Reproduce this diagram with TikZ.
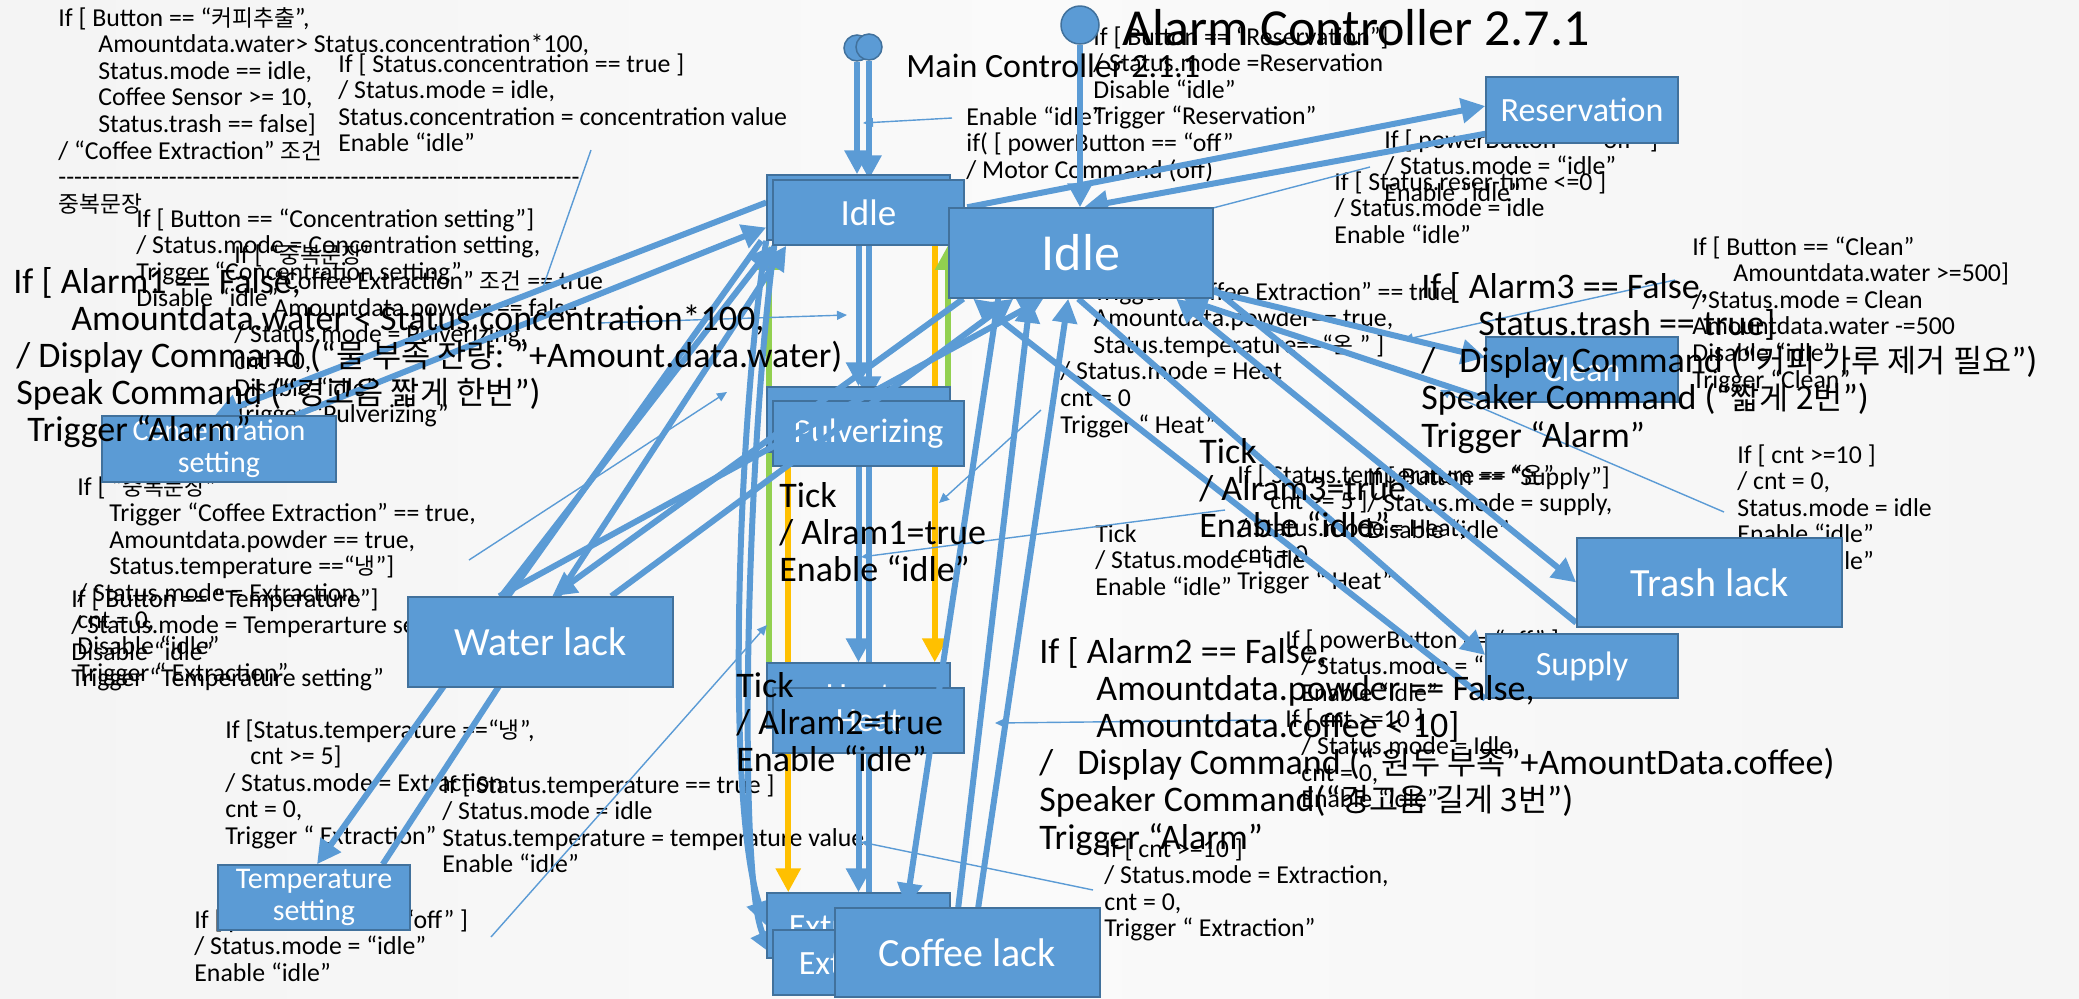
\documentclass[tikz,border=0pt]{standalone}
\usepackage{fontspec}
\setmainfont{Carlito}
\newfontfamily\krfont[Scale=0.88]{Noto Sans CJK KR}
\usetikzlibrary{arrows.meta,calc}

\definecolor{boxblue}{HTML}{5B9BD5}
\definecolor{boxedge}{HTML}{41719C}
\definecolor{lineblue}{HTML}{5B9BD5}
\definecolor{tickorange}{HTML}{FFC000}
\definecolor{tickgreen}{HTML}{92D050}

\newcommand{\ko}[1]{{\krfont #1}}
\newcommand{\lns}[1]{\begin{tabular}[t]{@{}l@{}}#1\end{tabular}}

\pgfdeclarehorizontalshading{slidebg}{100bp}{color(0bp)=(black!15); color(8bp)=(black!6); color(50bp)=(black!2); color(88bp)=(black!5); color(100bp)=(black!9)}

\pgfdeclarelayer{bg}
\pgfdeclarelayer{words}
\pgfdeclarelayer{wires}
\pgfdeclarelayer{boxes}
\pgfdeclarelayer{leads}
\pgfdeclarelayer{alarmwires}
\pgfdeclarelayer{top}
\pgfsetlayers{bg,words,wires,boxes,leads,alarmwires,main,top}

\tikzset{
  cond/.style={anchor=base west, inner sep=0pt, font=\fontsize{12.9}{13.3}\selectfont},
  bigcond/.style={anchor=base west, inner sep=0pt, font=\fontsize{18}{18.5}\selectfont},
  state/.style={draw=boxedge, fill=boxblue, line width=0.75pt, text=white, inner sep=0pt,
    align=center, font=\fontsize{17}{18}\selectfont},
  backbox/.style={state, minimum width=91.5pt, minimum height=32.5pt},
  frontbox/.style={state, minimum width=95.5pt, minimum height=32.5pt},
  sidebox/.style={state, minimum width=96pt, minimum height=33pt},
  lackbox/.style={state, minimum width=132.5pt, minimum height=44.5pt, font=\fontsize{20}{22}\selectfont},
  init/.style={circle, draw=boxedge, fill=boxblue, line width=0.75pt, inner sep=0pt},
  flow/.style={draw=lineblue, line width=3pt, -{Triangle[length=12pt,width=12pt]}},
  leader/.style={draw=lineblue, line width=0.7pt, -{Triangle[length=5pt,width=4.5pt]}},
}

\begin{document}
\begin{tikzpicture}[x=0.5pt, y=-0.5pt]
\useasboundingbox (0,0) rectangle (2079,998);
\begin{pgfonlayer}{bg}
\shade[shading=slidebg] (0,0) rectangle (2079,998);
\end{pgfonlayer}

% condition texts
\begin{pgfonlayer}{words}
\node[cond] (tCoffeeGo) at (58,26) {\lns{If [ Button == “\ko{커피추출}”,\\
\hspace*{20pt}Amountdata.water> Status.concentration*100,\\
\hspace*{20pt}Status.mode == idle,\\
\hspace*{20pt}Coffee Sensor >= 10,\\
\hspace*{20pt}Status.trash == false]\\
/ “Coffee Extraction” \ko{조건}\\
\hbox to 262pt{\leaders\hbox{-}\hfill}\\
\ko{중복문장}}};
\node[cond] (tConcDone) at (338,72) {\lns{If [ Status.concentration == true ]\\
/ Status.mode = idle,\\
Status.concentration = concentration value\\
Enable “idle”}};
\node[cond] (tConcSet) at (136,227) {\lns{If [ Button == “Concentration setting”]\\
/ Status.mode = Concentration setting,\\
Trigger “Concentration setting”\\
Disable “idle”}};
\node[cond] (tPulvGo) at (234,263) {\lns{If [ “\ko{중복문장}”\\
\hspace*{19.5pt}“Coffee Extraction” \ko{조건} == true\\
\hspace*{19.5pt}Amountdata.powder == false\\
/ Status.mode = Pulverizing,\\
cnt = 0,\\
Disable “idle”\\
Trigger “Pulverizing”}};
\node[cond] (tExtrGo) at (77,495) {\lns{If [ “\ko{중복문장}”\\
\hspace*{16pt}Trigger “Coffee Extraction” == true,\\
\hspace*{16pt}Amountdata.powder == true,\\
\hspace*{16pt}Status.temperature ==“\ko{냉}”]\\
/ Status.mode = Extraction,\\
cnt = 0,\\
Disable “idle”\\
Trigger “ Extraction”}};
\node[cond] (tTempSet) at (71,607) {\lns{If [ Button == “Temperature”]\\
/ Status.mode = Temperarture setting,\\
Disable “idle”\\
Trigger “Temperature setting”}};
\node[cond] (tTempExtr) at (225,738) {\lns{If [Status.temperature ==“\ko{냉}”,\\
\hspace*{12.5pt}cnt >= 5]\\
/ Status.mode = Extraction\\
cnt = 0,\\
Trigger “ Extraction”}};
\node[cond] (tTempDone) at (442,793) {\lns{If [ Status.temperature == true ]\\
/ Status.mode = idle\\
Status.temperature = temperature value\\
Enable “idle”}};
\node[cond] (tPowerOff) at (194,928) {\lns{If [ powerButton == “off” ]\\
/ Status.mode = “idle”\\
Enable “idle”}};
\node[cond] (tMotorOff) at (966,125) {\lns{Enable “idle”\\
if( [ powerButton == “off”\\
/ Motor Command (off)}};
\node[cond] (tReservGo) at (1093,45) {\lns{If [ Button == “Reservation”]\\
/ Status.mode =Reservation\\
Disable “idle”\\
Trigger “Reservation”}};
\node[cond] (tReservOff) at (1384,148) {\lns{If [ powerButton == “off” ]\\
/ Status.mode = “idle”\\
Enable “idle”}};
\node[cond] (tReservDone) at (1334,190) {\lns{If [ Status.reser-time <=0 ]\\
/ Status.mode = idle\\
Enable “idle”}};
\node[cond] (tHeatGo) at (1060,300) {\lns{\hspace*{16.5pt}Trigger “Coffee Extraction” == true\\
\hspace*{16.5pt}Amountdata.powder== true,\\
\hspace*{16.5pt}Status.temperature==“\ko{온} ” ]\\
/ Status.mode = Heat\\
cnt = 0\\
Trigger “ Heat”}};
\node[cond] (tCleanGo) at (1692,255) {\lns{If [ Button == “Clean”\\
\hspace*{20.5pt}Amountdata.water >=500]\\
/ Status.mode = Clean\\
Amountdata.water -=500\\
Disable “idle”\\
Trigger “Clean”}};
\node[cond] (tTrashDone) at (1737,463) {\lns{If [ cnt >=10 ]\\
/ cnt = 0,\\
Status.mode = idle\\
Enable “idle”\\
Enable “idle”}};
\node[cond] (tHeatRun) at (1237,483) {\lns{If [ Status.temperature == “\ko{온}”\\
\hspace*{16.5pt}cnt >= 5 ]\\
/ Status.mode = Heat,\\
cnt = 0,\\
Trigger “ Heat”}};
\node[cond] (tSupplyGo) at (1367,485) {\lns{If [ Button == “Supply”]\\
/ Status.mode = supply,\\
Disable “idle”}};
\node[cond] (tTickIdle) at (1095,542) {\lns{Tick\\
/ Status.mode = idle\\
Enable “idle”}};
\node[cond] (tSupplyDone) at (1285,648) {\lns{If [ powerButton == “off” ]\\
\hspace*{8pt}/ Status.mode = “idle”\\
\hspace*{8pt}Enable “idle”\\
If [ cnt >=10 ]\\
\hspace*{8pt}/ Status.mode = Idle\\
\hspace*{8pt}cnt = 0,\\
\hspace*{8pt}Enable “idle”}};
\node[cond] (tExtrDone) at (1104,857) {\lns{If [ cnt >=10 ]\\
/ Status.mode = Extraction,\\
cnt = 0,\\
Trigger “ Extraction”}};
\end{pgfonlayer}

% main controller states
\begin{pgfonlayer}{boxes}
\node[init, minimum size=13pt] (initM1) at (857,48) {};
\node[init, minimum size=13pt] (initM2) at (869,47) {};
\node[backbox, font=\fontsize{18.5}{20}\selectfont] (idleMb) at (858.5,207.5) {Idle};
\node[frontbox, font=\fontsize{18.5}{20}\selectfont] (idleM) at (868.5,212.5) {Idle};
\node[backbox] (pulvb) at (858.5,419.5) {Pulverizing};
\node[frontbox] (pulv) at (868.5,433.5) {Pulverizing};
\node[backbox] (heatb) at (858.5,695.5) {Heat};
\node[frontbox] (heat) at (868.5,720.5) {Heat};
\node[backbox] (extrb) at (858.5,925.5) {Extraction};
\node[frontbox] (extr) at (868.5,962.5) {Extraction};
\node[sidebox, minimum width=117pt, font=\fontsize{15}{16}\selectfont] (conc) at (219,449) {Concentration\\setting};
\node[sidebox, minimum height=32.5pt, font=\fontsize{15}{16}\selectfont] (tempset) at (314,897.5) {Temperature\\setting};
\end{pgfonlayer}

% alarm controller states
\node[init, minimum size=19pt] (initA) at (1080,25) {};
\node[state, minimum width=132pt, minimum height=45pt, font=\fontsize{26}{28}\selectfont] (idleA) at (1081,253) {Idle};
\node[sidebox] (reserv) at (1582,110) {Reservation};
\node[sidebox, minimum height=32.5pt] (clean) at (1582,369.5) {Clean};
\node[sidebox, minimum height=32pt] (supply) at (1582,666) {Supply};
\node[lackbox, minimum height=45pt] (water) at (540.5,642) {Water lack};
\node[lackbox] (coffee) at (967.5,952.5) {Coffee lack};
\node[lackbox] (trash) at (1709.5,582.5) {Trash lack};

% main controller transitions
\begin{pgfonlayer}{wires}
\draw[flow] (initM1.south) -- (initM1.south |- idleMb.north);
\draw[flow] (initM2.south) -- (initM2.south |- idleM.north);
\draw[flow] (idleMb.south) -- (pulvb.north);
\draw[flow] (idleM.south) -- (pulv.north);
\draw[flow] (pulvb.south) -- (heatb.north);
\draw[flow] (pulv.south) -- (heat.north);
\draw[flow] (heatb.south) -- (extrb.north);
\draw[flow] (heat.south) -- (extr.north);
\draw[flow, draw=tickorange] ($(idleM.south east)+(-30,0)$) -- ($(heatb.north east)+(-16,0)$);
\draw[flow, draw=tickorange] ($(pulv.south west)+(16,0)$) -- ($(extrb.north west)+(22,0)$);
\draw[flow, draw=tickgreen] ($(heatb.north west)+(3,0)$) -- ($(idleMb.south west)+(3,5)$);
\draw[flow, draw=tickgreen] ($(pulvb.north east)+(-3,0)$) -- ($(idleMb.south east)+(-3,5)$);
\draw[flow] ($(idleMb.west)+(0,-5)$) -- ($(conc.north)+(-4,0)$);
\draw[flow] ($(conc.north east)+(-41,0)$) -- ($(idleMb.west)+(0,20)$);
\draw[flow] ($(idleMb.south west)+(-5,0)$) -- ($(tempset.north)+(3,0)$);
\draw[flow] ($(tempset.north east)+(-28,0)$) -- ($(idleM.south west)+(14,0)$);
\draw[flow] (idleMb.south west) .. controls (738,420) and (725,800) .. (extrb.west);
\draw[flow] ($(idleM.south west)+(2,0)$) .. controls (745,470) and (738,880) .. ($(extr.west)+(0,-8)$);
\end{pgfonlayer}

% callout lines
\begin{pgfonlayer}{leads}
\coordinate (motorA) at (952,118);   \coordinate (motorB) at (863,123);
\coordinate (reserA) at (1370,167);  \coordinate (reserB) at (1213,208);
\coordinate (waterA) at (598,323);   \coordinate (waterB) at (847,315);
\coordinate (concA) at (591,150);    \coordinate (concB) at (542,290);
\coordinate (extrA) at (469,560);    \coordinate (extrB) at (727,392);
\coordinate (powerA) at (491,937);   \coordinate (powerB) at (767,625);
\coordinate (heatA) at (1041,410);   \coordinate (heatB) at (939,503);
\coordinate (tickA) at (1225,510);   \coordinate (tickB) at (861,557);
\coordinate (doneA) at (1093,890);   \coordinate (doneB) at (861,842);
\coordinate (beanA) at (1271,720);   \coordinate (beanB) at (995,723);
\coordinate (cntA) at (1724,512);    \coordinate (cntB) at (1440,390);
\coordinate (trashA) at (1675,280);  \coordinate (trashB) at (1403,340);
\draw[leader] (motorA) -- (motorB);
\draw[leader, -] (reserA) -- (reserB);
\draw[leader] (waterA) -- (waterB);
\draw[leader, -] (concA) -- (concB);
\draw[leader] (extrA) -- (extrB);
\draw[leader] (powerA) -- (powerB);
\draw[leader] (heatA) -- (heatB);
\draw[leader] (tickA) -- (tickB);
\draw[leader] (doneA) -- (doneB);
\draw[leader] (beanA) -- (beanB);
\draw[leader] (cntA) -- (cntB);
\draw[leader] (trashA) -- (trashB);
\end{pgfonlayer}

% alarm controller transitions
\begin{pgfonlayer}{alarmwires}
\draw[flow] (initA.south) -- (initA.south |- idleA.north);
\draw[flow] ($(water.north west)+(94,0)$) -- (idleM.south west);
\draw[flow] ($(idleA.south west)+(15,0)$) -- ($(water.north west)+(145,0)$);
\draw[flow] ($(water.north west)+(204,0)$) -- ($(idleA.south west)+(65,0)$);
\draw[flow] ($(water.north west)+(92,0)$) -- ($(idleA.south west)+(95,0)$);
\draw[flow] ($(idleA.south west)+(50,0)$) -- ($(coffee.north west)+(72,0)$);
\draw[flow] ($(coffee.north west)+(124,0)$) -- ($(idleA.south west)+(82,0)$);
\draw[flow] ($(coffee.north west)+(144,0)$) -- ($(idleA.south west)+(120,0)$);
\draw[flow] ($(idleA.south east)+(0,-10)$) -- (trash.west);
\draw[flow] ($(trash.south west)+(0,-5)$) -- ($(idleA.south west)+(228,0)$);
\draw[flow] ($(idleA.south west)+(130,0)$) -- ($(supply.west)+(0,-11)$);
\draw[flow] (supply.south west) -- ($(idleA.south west)+(25,0)$);
\draw[flow] ($(idleA.south east)+(0,-7)$) -- ($(clean.west)+(0,-12)$);
\draw[flow] ($(clean.south west)+(0,-4)$) -- ($(idleA.south east)+(-30,0)$);
\draw[flow] ($(idleA.north west)+(19,0)$) -- ($(reserv.west)+(0,-4)$);
\draw[flow] ($(reserv.south west)+(0,-10)$) -- ($(idleA.north)+(3,0)$);
\end{pgfonlayer}

% titles and alarm texts
\begin{pgfonlayer}{top}
\node[anchor=base west, inner sep=0pt, font=\fontsize{17}{18}\selectfont] (titleM) at (906,77) {Main Controller 2.1.1};
\node[anchor=base west, inner sep=0pt, font=\fontsize{26}{28}\selectfont] (titleA) at (1122,45) {Alarm Controller 2.7.1};
\node[bigcond] (tAlarm1) at (13,293) {\lns{If [ Alarm1 == False,\\
\hspace*{29pt}Amountdata.water < Status.concentration*100,\\
\hspace*{1.5pt}/ Display Command (“\ko{물 부족 잔량: }”+Amount.data.water)\\
\hspace*{1.5pt}Speak Command (“\ko{경고음 짧게 한번}”)\\
\hspace*{7pt}Trigger “Alarm”}};
\node[bigcond] (tAlarm3) at (1421,298) {\lns{If [ Alarm3 == False,\\
\hspace*{28.5pt}Status.trash == true]\\
/\hspace*{12pt}Display Command (“\ko{커피 가루 제거 필요}”)\\
Speaker Command (“\ko{짧게 2번}”)\\
Trigger “Alarm”}};
\node[bigcond] (tAlarm2) at (1039,663) {\lns{If [ Alarm2 == False,\\
\hspace*{28.5pt}Amountdata.powder == False,\\
\hspace*{28.5pt}Amountdata.coffee < 10]\\
/\hspace*{12pt}Display Command (“\ko{ 원두 부족}”+AmountData.coffee)\\
Speaker Command(“\ko{경고음 길게 3번}”)\\
Trigger “Alarm”}};
\node[bigcond] (tTick3) at (1199,463) {\lns{Tick\\ / Alram3=true\\ Enable “idle”}};
\node[bigcond] (tTick1) at (779,507) {\lns{Tick\\ / Alram1=true\\ Enable “idle”}};
\node[bigcond] (tTick2) at (736,697) {\lns{Tick\\ / Alram2=true\\ Enable “idle”}};
\end{pgfonlayer}
\end{tikzpicture}
\end{document}
